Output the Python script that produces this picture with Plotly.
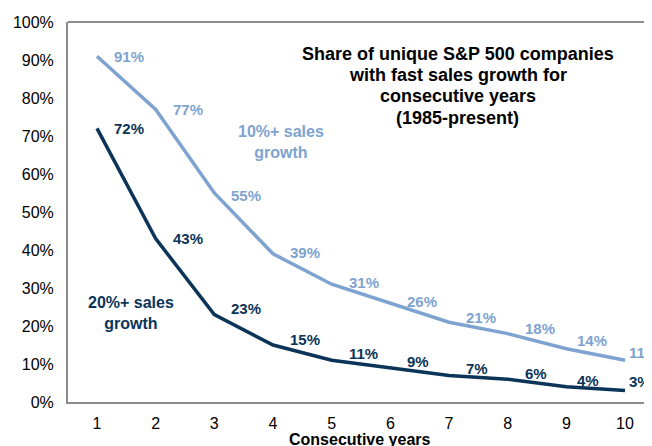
import plotly.graph_objects as go

years = [1, 2, 3, 4, 5, 6, 7, 8, 9, 10]
growth_10 = [91, 77, 55, 39, 31, 26, 21, 18, 14, 11]
growth_20 = [72, 43, 23, 15, 11, 9, 7, 6, 4, 3]
title_lines = ["Share of unique S&P 500 companies", "with fast sales growth for",
               "consecutive years", "(1985-present)"]

light = "#7EA3D0"
dark = "#0B3458"
grey = "#8c8c8c"
font = "Liberation Sans, Arial, sans-serif"

fig = go.Figure()
fig.add_trace(go.Scatter(x=years, y=growth_10, mode="lines",
                         line=dict(color=light, width=3.5), showlegend=False))
fig.add_trace(go.Scatter(x=years, y=growth_20, mode="lines",
                         line=dict(color=dark, width=3.5), showlegend=False))

anns = []
for ys, col, lift in [(growth_10, light, [0, 0, -2, 1, 2, 2, 5, 5, 8, 8]),
                      (growth_20, dark, [0, 0, 6, 6, 7, 6, 7, 6, 6, 9])]:
    for i, (x, y) in enumerate(zip(years, ys)):
        shift = 15 if i < 8 else (9 if i == 8 else 2)
        anns.append(dict(x=x, y=y, text=f"{y}%", showarrow=False,
                         xanchor="left", yanchor="middle", xshift=shift, yshift=lift[i],
                         font=dict(family=font, size=15, color=col, weight="bold")))

# chart title, one annotation per line
for k, line in enumerate(title_lines):
    anns.append(dict(x=7.15, y=91.6 - k * 5.6, xref="x", yref="y", showarrow=False,
                     text=line, yanchor="middle",
                     font=dict(family=font, size=18, color="black", weight="bold")))

anns.append(dict(x=4.14, y=68.3, xref="x", yref="y", showarrow=False,
                 text="10%+ sales<br>growth",
                 font=dict(family=font, size=16, color=light, weight="bold")))
anns.append(dict(x=1.58, y=23.5, xref="x", yref="y", showarrow=False,
                 text="20%+ sales<br>growth",
                 font=dict(family=font, size=16, color=dark, weight="bold")))

# x axis title sits just under the tick labels, as in the source
anns.append(dict(x=0.5, y=-0.071, xref="paper", yref="paper", showarrow=False,
                 text="Consecutive years", yanchor="top",
                 font=dict(family=font, size=16, color="black", weight="bold")))

# page body has an 8px margin, so the figure is drawn from (8, 8)
fig.update_layout(
    width=644, height=438,
    margin=dict(l=60, r=0, t=14, b=44),
    plot_bgcolor="white", paper_bgcolor="white",
    annotations=anns,
    xaxis=dict(range=[0.506, 10.46], tickvals=years, showgrid=False, zeroline=False,
               showline=True, linecolor=grey, linewidth=2, ticks="", automargin=False,
               ticklabelstandoff=6,
               tickfont=dict(family=font, size=16, color="black")),
    yaxis=dict(range=[0, 100], tickvals=list(range(0, 101, 10)),
               ticktext=[f"{v}%" for v in range(0, 101, 10)],
               showgrid=False, zeroline=False, showline=True, linecolor=grey,
               linewidth=2, ticks="", ticklabelstandoff=9, automargin=False,
               tickfont=dict(family=font, size=16, color="black")),
)
fig.add_shape(type="line", xref="paper", yref="paper", x0=0, x1=1, y0=1, y1=1,
              line=dict(color=grey, width=2))

fig.write_html("out.html")
